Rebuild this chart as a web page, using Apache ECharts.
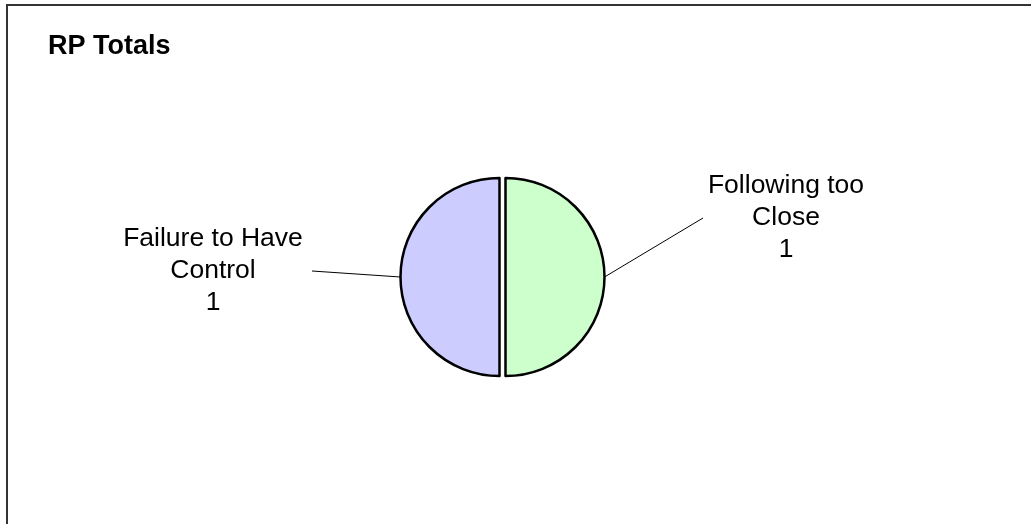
<!DOCTYPE html>
<html>
<head>
<meta charset="utf-8">
<script src="https://cdn.jsdelivr.net/npm/echarts@6/dist/echarts.min.js"></script>
<style>
html,body{margin:0;padding:0;background:#fff;overflow:hidden;}
#chart{position:absolute;left:0;top:0;width:1031px;height:524px;}
</style>
</head>
<body>
<div id="chart"></div>
<script>
const categories = ['Following too Close', 'Failure to Have Control'];
const values = [1, 1];
const colors = ['#CCFFCC', '#CCCCFF'];
const chartTitle = 'RP Totals';

// layout (pixels)
const pieCenter = [502.5, 277];
const explode = 3;
const labelCenters = [[786, 218], [213, 271]];
const lineEndOffset = [-83, 99];

function wrapWords(text, maxChars) {
  const words = text.split(' ');
  const lines = [];
  let cur = '';
  words.forEach(w => {
    if (cur && (cur + ' ' + w).length > maxChars) { lines.push(cur); cur = w; }
    else cur = cur ? cur + ' ' + w : w;
  });
  if (cur) lines.push(cur);
  return lines.join('\n');
}

function sliceSeries(k) {
  // one series per slice so each can be pulled out from the centre (exploded pie)
  const dir = k === 0 ? 1 : -1;
  return {
    type: 'pie',
    center: [pieCenter[0] + dir * explode, pieCenter[1]],
    radius: 99,
    startAngle: 90,
    clockwise: true,
    silent: true,
    emphasis: {disabled: true},
    data: categories.map((c, i) => i === k ? {
      name: c, value: values[i],
      itemStyle: {color: colors[i], borderColor: '#000', borderWidth: 2.5}
    } : {
      name: c, value: values[i],
      itemStyle: {color: 'rgba(0,0,0,0)', borderWidth: 0},
      label: {show: false}, labelLine: {show: false}
    }),
    label: {
      show: true,
      formatter: p => wrapWords(p.name, 15) + '\n' + p.value,
      fontFamily: 'Liberation Sans, Arial, sans-serif',
      fontSize: 26.5,
      lineHeight: 32,
      color: '#000'
    },
    labelLine: {show: true, lineStyle: {color: '#000', width: 1}},
    labelLayout: function (params) {
      const i = params.dataIndex;
      const c = labelCenters[i];
      const pts = params.labelLinePoints;
      const start = pts ? pts[0] : c;
      const end = [c[0] + lineEndOffset[i], c[1]];
      return {
        x: c[0], y: c[1], align: 'center', verticalAlign: 'middle',
        labelLinePoints: [start, end, end]
      };
    }
  };
}

const chart = echarts.init(document.getElementById('chart'), null, {renderer: 'canvas'});
chart.setOption({
  animation: false,
  backgroundColor: '#ffffff',
  title: {
    text: chartTitle,
    left: 48, top: 33, padding: 0,
    textStyle: {fontFamily: 'Liberation Sans, Arial, sans-serif', fontWeight: 'bold', fontSize: 27, color: '#000'}
  },
  graphic: [{
    type: 'rect', silent: true,
    shape: {x: 7, y: 5, width: 1200, height: 700},
    style: {fill: 'none', stroke: '#333', lineWidth: 2}
  }],
  series: [sliceSeries(0), sliceSeries(1)]
});
</script>
</body>
</html>
